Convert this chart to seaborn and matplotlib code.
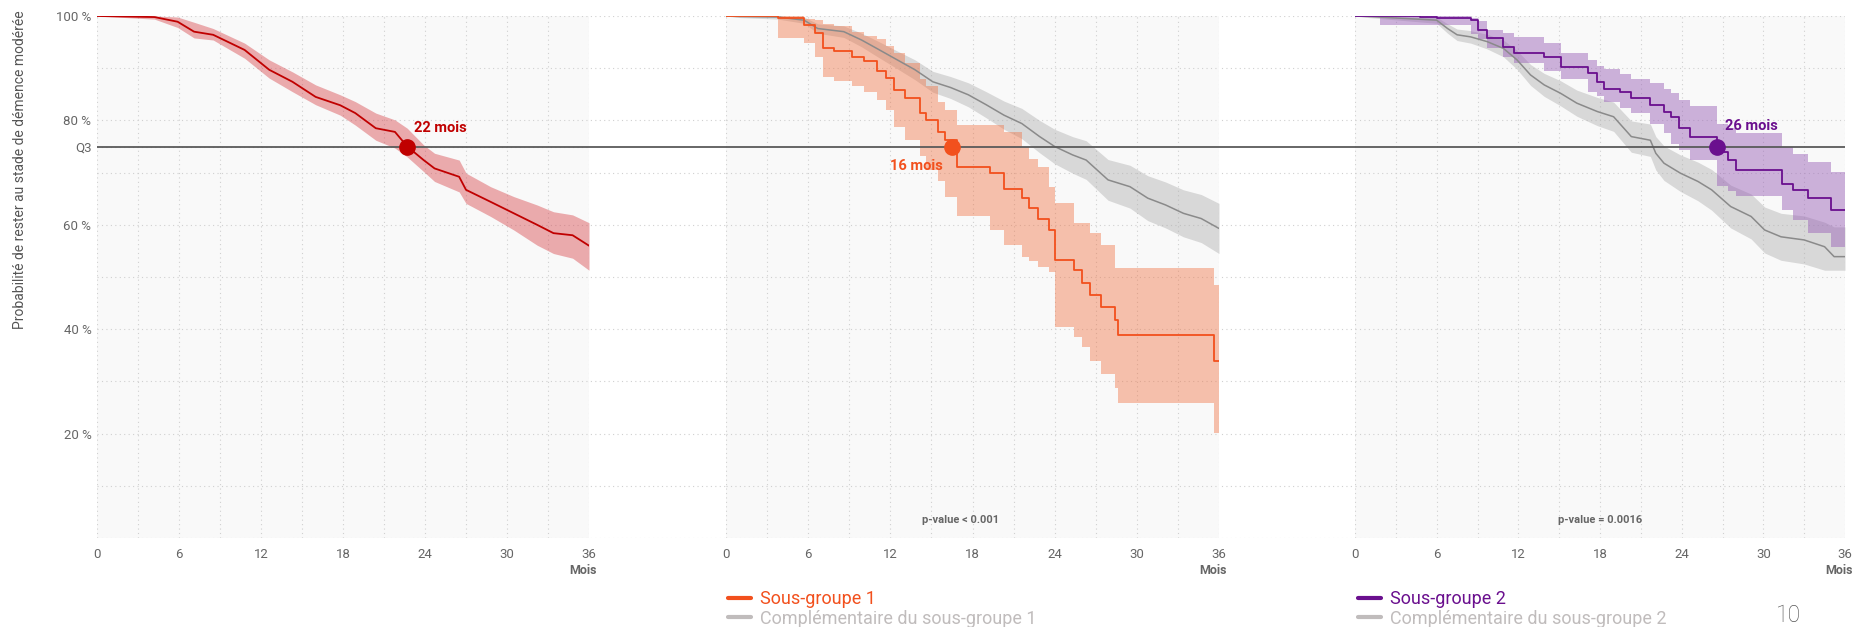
import matplotlib
matplotlib.use('Agg')
import numpy as np
import pandas as pd
import matplotlib.pyplot as plt
import seaborn as sns
from matplotlib.lines import Line2D
from matplotlib.ticker import MultipleLocator

# --- panel 1 : ensemble de la cohorte ---
t_all = [0, 4.2, 5.9, 7.1, 8.5, 10.8, 12.6, 14.3, 16.0, 17.8, 18.9, 20.4, 21.8, 22.7,
         23.9, 24.7, 26.5, 27.0, 28.8, 30.5, 32.2, 33.4, 34.8, 36.0]
s_all = [100, 99.8, 98.9, 97.0, 96.4, 93.5, 89.7, 87.4, 84.5, 82.9, 81.4, 78.5, 77.8, 75.0,
         72.4, 70.8, 69.2, 66.7, 64.4, 62.2, 60.0, 58.4, 58.0, 56.0]
hi_all = [100, 100, 99.8, 98.8, 97.6, 94.8, 91.6, 89.3, 86.8, 84.9, 83.6, 81.4, 80.1, 78.5,
          75.3, 73.7, 72.4, 69.9, 67.3, 65.4, 63.8, 62.5, 61.9, 60.4]
lo_all = [100, 99.4, 97.8, 95.8, 95.4, 91.9, 88.1, 85.5, 83.0, 81.0, 79.1, 76.2, 74.7, 73.0,
          70.2, 68.3, 66.3, 64.1, 61.6, 59.0, 56.1, 54.5, 53.6, 51.3]

# --- panel 2 : sous-groupe 1 et complementaire ---
t_sg1 = [0, 3.8, 5.7, 6.5, 7.1, 7.9, 9.2, 10.1, 11.0, 11.7, 12.3, 13.1, 14.2, 14.6, 15.5, 16.0,
         16.9, 19.3, 20.3, 21.6, 22.1, 22.8, 23.6, 24.0, 25.4, 26.0, 26.6, 27.4, 28.4, 28.6, 35.6, 36.0]
s_sg1 = [100, 99.6, 98.3, 96.7, 93.8, 93.2, 92.2, 91.4, 89.5, 88.1, 85.8, 84.2, 81.4, 80.1, 77.8, 76.2,
         71.1, 69.9, 66.8, 65.1, 63.2, 61.2, 59.0, 53.3, 51.3, 48.8, 46.6, 44.3, 41.8, 38.9, 34.0, 34.0]
hi_sg1 = [100, 100, 99.5, 99.2, 98.5, 98.0, 97.0, 96.2, 95.5, 94.3, 93.0, 91.0, 88.0, 86.5, 83.5, 82.0,
          79.1, 79.1, 77.8, 75.0, 72.7, 71.1, 67.3, 64.1, 60.3, 60.3, 58.4, 56.1, 51.7, 51.7, 48.5, 48.5]
lo_sg1 = [100, 95.7, 94.8, 92.2, 88.4, 87.5, 86.5, 85.5, 83.9, 82.0, 78.8, 76.2, 73.1, 70.5, 68.3, 65.4,
          61.6, 59.0, 56.1, 53.9, 53.0, 52.0, 51.0, 40.5, 38.6, 36.5, 33.9, 31.4, 28.8, 25.9, 20.2, 20.2]

t_c1 = [0, 1.0, 3.8, 5.7, 6.7, 8.6, 9.9, 11.0, 12.5, 13.8, 15.1, 16.4, 17.7, 19.0, 20.3, 21.6,
        22.9, 24.0, 25.3, 26.3, 27.9, 29.5, 30.8, 32.1, 33.4, 34.7, 36.0]
s_c1 = [100, 99.9, 99.8, 99.2, 97.6, 97.0, 95.4, 93.8, 91.6, 89.7, 87.4, 86.3, 84.9, 83.0, 81.0, 79.4,
        76.9, 75.0, 73.4, 72.4, 68.6, 67.3, 65.1, 63.8, 62.2, 61.2, 59.3]
hi_c1 = [100, 100, 100, 99.8, 98.5, 98.1, 96.7, 95.3, 93.3, 91.6, 89.4, 88.4, 87.2, 85.5, 83.7, 82.3,
         80.0, 78.3, 76.9, 76.1, 72.5, 71.4, 69.4, 68.2, 66.7, 65.8, 64.1]
lo_c1 = [100, 99.7, 99.4, 98.6, 96.7, 95.9, 94.1, 92.3, 89.9, 87.8, 85.4, 84.2, 82.6, 80.5, 78.3, 76.5,
         73.8, 71.7, 69.9, 68.7, 64.7, 63.2, 60.8, 59.4, 57.7, 56.6, 54.5]

# --- panel 3 : sous-groupe 2 et complementaire ---
t_sg2 = [0, 1.8, 4.8, 6.0, 8.5, 9.0, 9.7, 10.9, 11.7, 13.9, 15.1, 17.1, 17.8, 18.3, 19.5, 20.3,
         21.7, 22.7, 23.2, 23.8, 24.6, 26.6, 27.4, 28.0, 31.4, 32.2, 33.3, 35.0, 36.0]
s_sg2 = [100, 100, 99.9, 99.6, 99.2, 97.3, 95.7, 94.1, 92.9, 92.2, 90.3, 89.0, 87.4, 86.1, 85.5, 84.2,
         83.0, 81.7, 80.7, 78.5, 76.9, 74.0, 72.4, 70.5, 67.9, 66.7, 65.1, 62.8, 62.8]
hi_sg2 = [100, 100, 100, 100, 99.6, 99.0, 97.3, 96.7, 96.0, 94.9, 92.9, 91.5, 90.4, 89.8, 88.8, 88.0,
          87.2, 86.0, 85.3, 84.0, 82.8, 79.4, 78.5, 77.5, 75.0, 73.5, 72.1, 70.2, 70.2]
lo_sg2 = [100, 98.3, 98.3, 98.3, 96.5, 95.5, 93.8, 92.2, 91.0, 89.5, 87.9, 85.5, 84.6, 83.5, 82.4, 81.5,
          79.4, 77.5, 75.5, 74.3, 72.5, 67.5, 66.5, 65.5, 62.8, 61.0, 58.4, 55.8, 54.2]

t_c2 = [0, 1.0, 6.0, 6.8, 7.5, 8.5, 9.7, 10.9, 11.9, 12.9, 13.9, 15.1, 16.3, 17.8, 19.0, 20.3,
        21.7, 22.1, 22.7, 23.9, 25.2, 26.2, 27.6, 29.1, 30.1, 31.3, 33.0, 34.5, 35.2, 36.0]
s_c2 = [100, 99.9, 99.2, 97.6, 96.4, 96.0, 95.1, 93.8, 91.6, 88.7, 86.8, 85.2, 83.3, 81.7, 80.7, 76.9,
        76.2, 73.7, 71.8, 69.9, 68.3, 66.7, 63.5, 61.6, 59.0, 57.7, 57.1, 55.8, 53.9, 53.9]
hi_c2 = [100, 100, 99.8, 98.5, 97.5, 97.2, 96.5, 95.4, 93.4, 90.7, 89.0, 87.6, 85.8, 84.4, 83.5, 79.9,
         79.3, 76.9, 75.1, 73.4, 72.0, 70.6, 67.6, 65.9, 63.4, 62.2, 61.7, 60.5, 59.6, 59.6]
lo_c2 = [100, 99.7, 98.6, 96.7, 95.3, 94.8, 93.7, 92.2, 89.8, 86.7, 84.6, 82.8, 80.8, 79.0, 77.9, 73.9,
         73.1, 70.5, 68.5, 66.4, 64.6, 62.8, 59.4, 57.3, 54.6, 53.2, 52.5, 51.3, 51.3, 51.3]

# quartile Q3 (75 %) et temps d'atteinte
q3_level = 75
q3_time = [22.7, 16.5, 26.6]
q3_text = ['22 mois', '16 mois', '26 mois']
p_values = ['', 'p-value < 0.001', 'p-value = 0.0016']
p_pos = [None, 17.1, 18.0]
legend_labels = [['Sous-groupe 1', 'Compl\u00e9mentaire du sous-groupe 1'],
                 ['Sous-groupe 2', 'Compl\u00e9mentaire du sous-groupe 2']]

y_ticks = [20, 40, 60, 75, 80, 100]
y_ticklabels = ['20 %', '40 %', '60 %', 'Q3', '80 %', '100 %']

red = '#c00000'
orange = '#f2501d'
purple = '#6a0f8e'
gray_line = '#8a8a8a'
gray_leg = '#c0bcbc'
txt_gray = '#666666'
grid_kw = dict(color='#d0d0d0', linestyle=(0, (1, 3)), linewidth=0.8)

sns.set_theme(style='white')
plt.rcParams['font.family'] = ['Roboto', 'DejaVu Sans']

W, H = 1854, 627
fig = plt.figure(figsize=(W / 100, H / 100), dpi=100)


def rect(x0, x1):
    return [x0 / W, 1 - 538 / H, (x1 - x0) / W, (538 - 16) / H]


# axe de fond : grille horizontale et ligne Q3 entre les panneaux
bg = fig.add_axes(rect(97, 1845), zorder=0)
bg.set_facecolor('none')
bg.set_xlim(0, 1)
bg.set_ylim(0, 100)
bg.set_xticks([])
bg.set_yticks([])
bg.yaxis.set_minor_locator(MultipleLocator(10))
bg.tick_params(which='both', length=0)
bg.grid(which='minor', axis='y', **grid_kw)
bg.axhline(q3_level, color='#5a5a5a', lw=1.3)
for s in bg.spines.values():
    s.set_visible(False)

axes = [fig.add_axes(rect(97, 589), zorder=1),
        fig.add_axes(rect(726, 1219), zorder=1),
        fig.add_axes(rect(1355, 1845), zorder=1)]


def km(ax, t, s, lo, hi, line_c, band_c, alpha, lw=1.3, steps=True):
    step = 'post' if steps else None
    ax.fill_between(t, lo, hi, step=step, color=band_c, alpha=alpha, lw=0, zorder=2)
    df = pd.DataFrame({'t': t, 's': s})
    sns.lineplot(data=df, x='t', y='s', ax=ax, color=line_c, lw=lw,
                 drawstyle='steps-post' if steps else 'default',
                 estimator=None, sort=False, zorder=3)


km(axes[0], t_all, s_all, lo_all, hi_all, red, '#d84a50', 0.45, steps=False)
km(axes[1], t_c1, s_c1, lo_c1, hi_c1, gray_line, '#b0b0b0', 0.45, lw=1.1, steps=False)
km(axes[1], t_sg1, s_sg1, lo_sg1, hi_sg1, orange, '#f07040', 0.42)
km(axes[2], t_c2, s_c2, lo_c2, hi_c2, gray_line, '#b0b0b0', 0.45, lw=1.1, steps=False)
km(axes[2], t_sg2, s_sg2, lo_sg2, hi_sg2, purple, '#9a62b8', 0.48)

colors = [red, orange, purple]
offsets = [((7, 19), 'left'), ((-9, -19), 'right'), ((8, 20), 'left')]

for i, ax in enumerate(axes):
    ax.set_facecolor('#f9f9f9')
    ax.set_xlim(0, 36)
    ax.set_ylim(0, 100)
    ax.xaxis.set_major_locator(MultipleLocator(6))
    ax.xaxis.set_minor_locator(MultipleLocator(3))
    ax.yaxis.set_minor_locator(MultipleLocator(10))
    if i == 0:
        ax.set_yticks(y_ticks, y_ticklabels)
    else:
        ax.set_yticks([])
    ax.grid(which='both', **grid_kw)
    ax.set_axisbelow(True)
    ax.tick_params(which='both', length=0, labelsize=9.5, labelcolor=txt_gray)
    ax.tick_params(axis='x', pad=7)
    ax.tick_params(axis='y', pad=4)
    for s in ax.spines.values():
        s.set_visible(False)
    ax.set_xlabel('')
    ax.set_ylabel('')
    ax.axhline(q3_level, color='#5a5a5a', lw=1.3, zorder=4)
    ax.plot([q3_time[i]], [q3_level], 'o', ms=11, color=colors[i], zorder=6, clip_on=False)
    (dx, dy), ha = offsets[i]
    ax.annotate(q3_text[i], xy=(q3_time[i], q3_level), xytext=(dx, dy), textcoords='offset pixels',
                ha=ha, va='center', fontsize=10.5, fontweight='bold', color=colors[i], zorder=7)
    ax.annotate('Mois', xy=(1, 0), xycoords='axes fraction', xytext=(8, -33),
                textcoords='offset pixels', ha='right', va='center', fontsize=9,
                fontweight='bold', color=txt_gray)
    if p_pos[i] is not None:
        ax.text(p_pos[i], 3.4, p_values[i], ha='center', va='center', fontsize=8,
                fontweight='bold', color=txt_gray)

axes[0].set_ylabel('Probabilit\u00e9 de rester au stade de d\u00e9mence mod\u00e9r\u00e9e',
                   loc='top', fontsize=10, color='#555555')
axes[0].yaxis.set_label_coords(-0.142, 1.01)

for k, (x0, col) in enumerate([(728, orange), (1358, purple)]):
    handles = [Line2D([], [], color=col, lw=3), Line2D([], [], color=gray_leg, lw=3)]
    leg = fig.legend(handles=handles, labels=legend_labels[k], loc='upper left',
                     bbox_to_anchor=(x0 / W, 1 - 590 / H), frameon=False, fontsize=13,
                     handlelength=1.3, handletextpad=0.45, labelspacing=0.1,
                     borderpad=0, borderaxespad=0)
    for txt, c in zip(leg.get_texts(), [col, gray_leg]):
        txt.set_color(c)

fig.text(1776 / W, 1 - 604 / H, '10', ha='left', va='top', fontsize=16.5,
         color='#555555', fontweight='light')

fig.savefig('out.png', dpi=100)
plt.close(fig)
print('Saved out.png')
